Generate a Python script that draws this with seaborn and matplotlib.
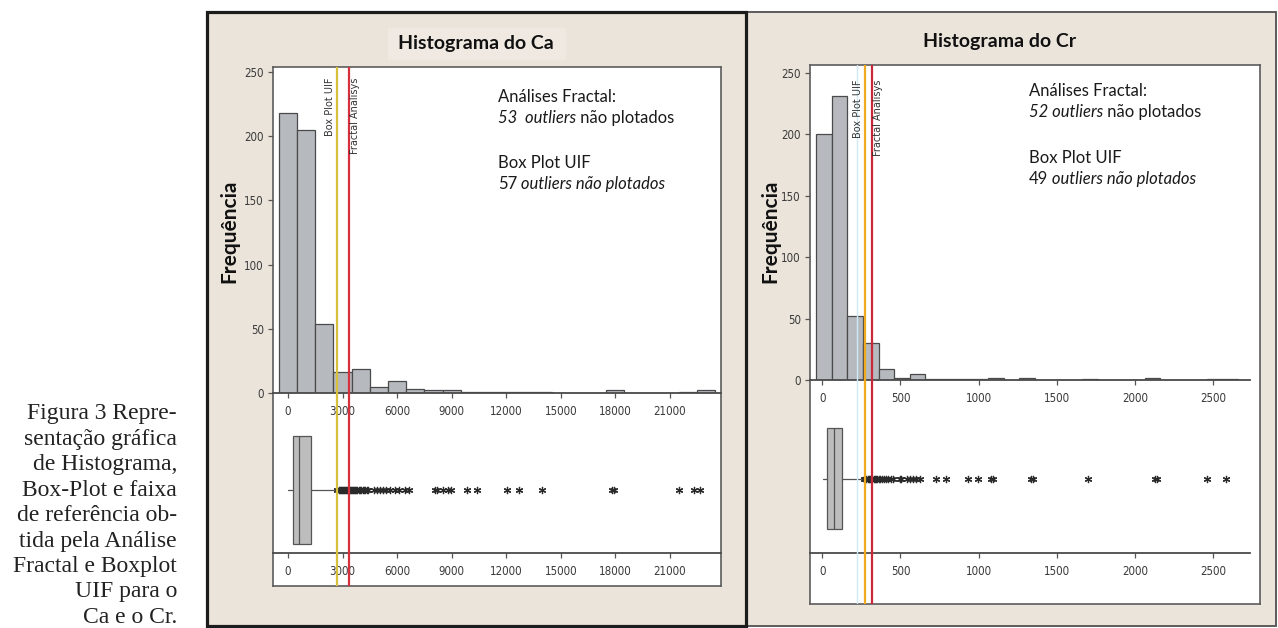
import numpy as np
import pandas as pd
import matplotlib
matplotlib.use("Agg")
import matplotlib.pyplot as plt
import seaborn as sns
from matplotlib.patches import Rectangle
from matplotlib import font_manager as fm

# ------------------------------------------------------------------ data
# Ca histogram (bin midpoints, width 1000)
ca_bin_mid = [0, 1000, 2000, 3000, 4000, 5000, 6000, 7000, 8000, 9000, 10000, 11000,
              12000, 13000, 14000, 15000, 16000, 17000, 18000, 19000, 20000, 21000, 22000, 23000]
ca_counts = [218, 205, 54, 16, 19, 5, 9, 3, 2, 2, 1, 1,
             1, 1, 1, 0, 0, 0, 2, 0, 0, 0, 1, 2]
ca_quartiles = [290, 620, 1264]          # Q1, median, Q3
ca_whiskers = [20, 2676]
ca_outliers = [2720, 2780, 2850, 2900, 2960, 3010, 3080, 3150, 3200, 3260, 3310, 3370,
               3420, 3480, 3530, 3590, 3640, 3700, 3760, 3820, 3890, 3950, 4020, 4100,
               4180, 4260, 4350, 4410, 4730, 4890, 5060, 5220, 5380, 5630, 5870, 6120,
               6460, 6630, 8090, 8220, 8550, 8820, 8950, 9820, 10410, 12030, 12720,
               13940, 17820, 17900, 21500, 22330, 22680]
ca_ref_uif = 2676
ca_ref_fractal = 3352
ca_xticks = [0, 3000, 6000, 9000, 12000, 15000, 18000, 21000]

# Cr histogram (bin midpoints, width 100)
cr_bin_mid = [10, 110, 210, 310, 410, 510, 610, 710, 810, 910, 1010, 1110, 1210, 1310,
              1410, 1510, 1610, 1710, 1810, 1910, 2010, 2110, 2210, 2310, 2410, 2510, 2610]
cr_counts = [200, 231, 52, 30, 9, 2, 5, 1, 1, 1, 1, 2, 0, 2,
             0, 0, 0, 1, 0, 0, 0, 2, 0, 0, 0, 1, 1]
cr_quartiles = [30, 73, 128]
cr_whiskers = [4, 264]
cr_outliers = [268, 275, 283, 290, 298, 305, 312, 320, 328, 335, 343, 352, 360, 370,
               380, 392, 405, 420, 438, 452, 500, 505, 540, 560, 580, 600, 625,
               730, 794, 933, 997, 1080, 1090, 1335, 1345, 1697, 2130, 2140, 2456, 2581]
cr_ref_uif = 272
cr_ref_fractal = 318
cr_ref_faint = 222
cr_xticks = [0, 500, 1000, 1500, 2000, 2500]

yticks = [0, 50, 100, 150, 200, 250]

caption_lines = ["Figura 3 Repre-", "sentação gráfica", "de Histograma,", "Box-Plot e faixa",
                 "de referência ob-", "tida pela Análise", "Fractal e Boxplot", "UIF para o",
                 "Ca e o Cr."]

# ------------------------------------------------------------------ style
sns.set_style("white")
avail = {f.name for f in fm.fontManager.ttflist}
if "Liberation Sans Narrow" in avail:
    TICKFAM, TICKSIZE = ["Liberation Sans Narrow", "DejaVu Sans"], 10
else:
    TICKFAM, TICKSIZE = ["DejaVu Sans"], 8.3
SANS = ["Lato", "DejaVu Sans"]
SERIF = ["Liberation Serif", "DejaVu Serif"]
plt.rcParams["font.family"] = SANS

W, H = 1278, 628
fig = plt.figure(figsize=(W / 100, H / 100), dpi=100)
fig.patch.set_facecolor("white")
renderer = fig.canvas.get_renderer()

BEIGE = "#ebe4da"
BAR = "#b6babe"
EDGE = "#4a4a4a"


def add_ax(x0, y0, x1, y1):
    return fig.add_axes([x0 / W, 1 - y1 / H, (x1 - x0) / W, (y1 - y0) / H])


def rect(x0, y0, x1, y1, **kw):
    r = Rectangle((x0 / W, 1 - y1 / H), (x1 - x0) / W, (y1 - y0) / H,
                  transform=fig.transFigure, **kw)
    fig.add_artist(r)


def rich(x, y, pieces, size=12):
    for s, style in pieces:
        t = fig.text(x / W, 1 - y / H, s, fontsize=size, style=style, family=SANS,
                     color="#1a1a1a", ha="left", va="center")
        x += t.get_window_extent(renderer=renderer).width


def style_ticklabels(ax):
    for lab in ax.get_xticklabels() + ax.get_yticklabels():
        lab.set_fontfamily(TICKFAM)
        lab.set_fontsize(TICKSIZE)
        lab.set_color("#3a3a3a")
        if TICKFAM[0] == "DejaVu Sans":
            lab.set_fontstretch("condensed")


def panel(L, mids, counts, binw, binrange, quart, whisk, outl, ref_uif, ref_fr,
          xlim, xticks, ylim_top, title, lines, uif_color, fr_color, faint=None):
    # white plotting area frame
    bg = add_ax(*L["white"])
    bg.set_facecolor("white")
    bg.set_xticks([]); bg.set_yticks([])
    for sp in bg.spines.values():
        sp.set_color("#5c5c5c"); sp.set_linewidth(1.2)

    # histogram
    ah = add_ax(*L["hist"])
    ah.set_facecolor("none")
    sns.histplot(x=mids, weights=counts, binwidth=binw, binrange=binrange, ax=ah,
                 color=BAR, edgecolor=EDGE, linewidth=0.9, alpha=1)
    ah.set_xlim(*xlim); ah.set_ylim(0, ylim_top)
    ah.set_xticks(xticks); ah.set_yticks(yticks)
    ah.set_xlabel(""); ah.set_ylabel("")
    for s in ["top", "right", "left"]:
        ah.spines[s].set_visible(False)
    ah.spines["bottom"].set_color("#4a4a4a"); ah.spines["bottom"].set_linewidth(1.3)
    ah.tick_params(axis="both", direction="out", length=3.5, width=0.9, color="#555555",
                   pad=3, left=True, bottom=True)
    ah.tick_params(axis="x", pad=5)
    style_ticklabels(ah)

    # boxplot
    ab = add_ax(*L["box"])
    ab.set_facecolor("none")
    stats = [dict(q1=quart[0], med=quart[1], q3=quart[2], whislo=whisk[0],
                  whishi=whisk[1], fliers=outl)]
    kw = dict(positions=[1], widths=L["boxw"], patch_artist=True, showcaps=False,
              boxprops=dict(facecolor="#bdbdbd", edgecolor="#555555", linewidth=0.9),
              medianprops=dict(color="#555555", linewidth=0.9),
              whiskerprops=dict(color="#555555", linewidth=0.9),
              flierprops=dict(marker=(6, 2, 0), markersize=5.2, markeredgecolor="#2a2a2a",
                              markerfacecolor="#2a2a2a", markeredgewidth=0.9, linestyle="none"))
    try:
        ab.bxp(stats, orientation="horizontal", **kw)
    except TypeError:
        ab.bxp(stats, vert=False, **kw)
    ab.set_xlim(*xlim); ab.set_ylim(0.5, 1.5)
    ab.set_xticks(xticks); ab.set_xticklabels([str(v) for v in xticks]); ab.set_yticks([])
    for s in ["top", "right", "left"]:
        ab.spines[s].set_visible(False)
    ab.spines["bottom"].set_color("#4a4a4a"); ab.spines["bottom"].set_linewidth(1.3)
    ab.tick_params(axis="x", direction="out", length=3.5, width=0.9, color="#555555", pad=5,
                   bottom=True)
    style_ticklabels(ab)

    # reference lines through both plots
    x0, y0, x1, y1 = L["white"]
    ov = add_ax(L["hist"][0], y0, L["hist"][2], y1)
    ov.set_xlim(*xlim); ov.set_ylim(0, 1); ov.axis("off")
    if faint is not None:
        ov.axvline(faint, color="#cfe9f5", lw=1.0)
    ov.axvline(ref_uif, color=uif_color, lw=1.6)
    ov.axvline(ref_fr, color=fr_color, lw=1.6)
    ov.annotate("Box Plot UIF", xy=(ref_uif, 1), xycoords=("data", "axes fraction"),
                xytext=(-7, -L["lbl_off"]), textcoords="offset pixels", rotation=90,
                ha="center", va="top", fontsize=7, family=TICKFAM, color="#333333")
    ov.annotate("Fractal Analisys", xy=(ref_fr, 1), xycoords=("data", "axes fraction"),
                xytext=(6, -L["lbl_off"]), textcoords="offset pixels", rotation=90,
                ha="center", va="top", fontsize=7, family=TICKFAM, color="#333333")

    # titles / labels
    tx, ty = L["title"]
    fig.text(tx / W, 1 - ty / H, title, fontsize=14, fontweight="bold", family=SANS,
             ha="center", va="center", color="#111111")
    fx, fy = L["ylab"]
    fig.text(fx / W, 1 - fy / H, "Frequência", fontsize=15, fontweight="bold", family=SANS,
             rotation=90, ha="center", va="center", color="#111111")
    lx = L["txt_x"]
    for (yy, pieces) in zip(L["txt_y"], lines):
        rich(lx, yy, pieces)


# ------------------------------------------------------------------ panels
rect(207, 12, 746, 626, facecolor=BEIGE, edgecolor="#1c1c1c", linewidth=2.3, zorder=-2)
rect(746, 12, 1276, 626, facecolor=BEIGE, edgecolor="#505050", linewidth=1.3, zorder=-3)
rect(388, 28, 566, 60, facecolor="#efe9e2", edgecolor="none", zorder=-1)

Lca = dict(white=(273, 67, 721, 586), hist=(273, 67, 721, 393), box=(273, 427, 721, 553),
           boxw=0.85, title=(476, 43), ylab=(229, 231), txt_x=498, txt_y=[97, 118, 163, 184],
           lbl_off=11)
Lcr = dict(white=(810, 65, 1260, 604), hist=(810, 65, 1250, 380), box=(810, 404, 1250, 553),
           boxw=0.68, title=(1000, 41), ylab=(770, 231), txt_x=1029, txt_y=[91, 112, 158, 179],
           lbl_off=15)

panel(Lca, ca_bin_mid, ca_counts, 1000, (-500, 23500), ca_quartiles, ca_whiskers, ca_outliers,
      ca_ref_uif, ca_ref_fractal, (-824, 23810), ca_xticks, 254, "Histograma do Ca",
      [[("Análises Fractal:", "normal")],
       [("53  outliers", "italic"), (" não plotados", "normal")],
       [("Box Plot UIF", "normal")],
       [("57", "normal"), (" outliers não plotados", "italic")]],
      "#d8bf3c", "#d6303e")

panel(Lcr, cr_bin_mid, cr_counts, 100, (-40, 2660), cr_quartiles, cr_whiskers, cr_outliers,
      cr_ref_uif, cr_ref_fractal, (-78, 2734), cr_xticks, 256.5, "Histograma do Cr",
      [[("Análises Fractal:", "normal")],
       [("52 outliers", "italic"), (" não plotados", "normal")],
       [("Box Plot UIF", "normal")],
       [("49", "normal"), (" outliers não plotados", "italic")]],
      "#f0aa20", "#c8283a", faint=cr_ref_faint)

# caption
for i, line in enumerate(caption_lines):
    fig.text(177 / W, 1 - (419 + 25.5 * i) / H, line, fontsize=17, family=SERIF,
             ha="right", va="baseline", color="#222222")

fig.savefig("out.png", dpi=100, facecolor="white")
